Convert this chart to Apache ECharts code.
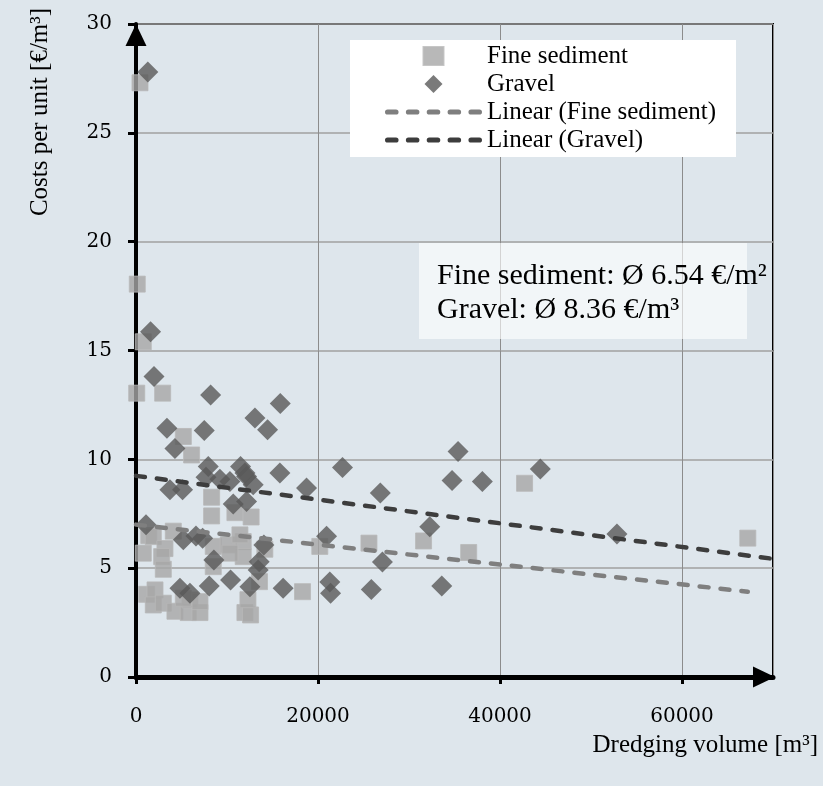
<!DOCTYPE html>
<html>
<head>
<meta charset="utf-8">
<script src="https://cdn.jsdelivr.net/npm/echarts@6/dist/echarts.min.js"></script>
<style>
  html, body { margin: 0; padding: 0; background: #dee6ec; }
  #main { width: 823px; height: 786px; }
</style>
</head>
<body>
<div id="main"></div>
<script>
// [dredging volume m3, cost per unit]
const fineSediment = [
  [440, 27.3], [140, 18.05], [800, 15.4], [80, 13.04], [2930, 13.04],
  [5200, 11.05], [6110, 10.2], [8310, 8.26], [8310, 7.4], [10870, 7.55],
  [12650, 7.35], [4100, 6.7], [1400, 6.5], [1900, 6.45], [800, 5.69],
  [3180, 5.9], [2820, 5.53], [3000, 4.95], [1170, 3.8], [2090, 4.0],
  [1900, 3.31], [3000, 3.39], [4280, 3.02], [5740, 2.96], [7030, 2.96],
  [5930, 3.54], [7030, 3.46], [5200, 3.62], [11970, 2.96], [12590, 2.85],
  [12300, 3.55], [13570, 4.38], [8490, 6.0], [10130, 6.07], [11780, 6.22],
  [11780, 5.53], [10320, 5.69], [8490, 5.07], [14160, 5.87], [11420, 6.53],
  [18300, 3.92], [20200, 6.0], [25600, 6.15], [31600, 6.25], [36560, 5.72],
  [42700, 8.9], [67230, 6.38]
];
const gravel = [
  [1300, 27.8], [1600, 15.86], [1980, 13.8], [8200, 12.95], [15850, 12.57],
  [13070, 11.9], [14460, 11.36], [3400, 11.43], [7500, 11.33], [4280, 10.5],
  [7940, 9.67], [11490, 9.67], [15810, 9.37], [22690, 9.62], [26850, 8.45],
  [18740, 8.68], [7690, 9.18], [9220, 9.09], [10320, 8.98], [12150, 9.21],
  [11970, 9.37], [12880, 8.83], [3730, 8.6], [5120, 8.6], [10690, 7.95],
  [12150, 8.06], [32280, 6.9], [20940, 6.47], [27080, 5.28], [1100, 6.99],
  [5200, 6.3], [6590, 6.48], [7320, 6.38], [14050, 6.07], [13540, 5.3],
  [13430, 4.92], [8560, 5.38], [4830, 4.08], [5930, 3.85], [8050, 4.18],
  [10390, 4.46], [12520, 4.15], [16170, 4.08], [21300, 4.36], [21380, 3.85],
  [25860, 4.02], [33600, 4.18], [35390, 10.36], [34730, 9.03], [38060, 8.98],
  [44430, 9.56], [52850, 6.57]
];
const fineTrend = [[0, 7.0], [67230, 3.92]];
const gravelTrend = [[0, 9.24], [70000, 5.43]];

const seriesNames = ['Fine sediment', 'Gravel', 'Linear (Fine sediment)', 'Linear (Gravel)'];
const averageLines = ['Fine sediment: Ø 6.54 €/m²', 'Gravel: Ø 8.36 €/m³'];

const serif = 'Liberation Serif';
const fineColor = '#a6a6a6', gravelColor = '#595959';
const fineLineColor = '#7f7f7f', gravelLineColor = '#3d3d3d';
const dash = [9, 12];

// dashed legend icon: five rounded dashes
let dashIcon = 'path://';
for (let i = 0; i < 5; i++) {
  const x0 = i * 20 + 2.5;
  dashIcon += 'M' + x0 + ',0h8a2.5,2.5 0 0 1 0,5h-8a2.5,2.5 0 0 1 0,-5z';
}

const chart = echarts.init(document.getElementById('main'));

const option = {
  backgroundColor: '#dee6ec',
  animation: false,
  grid: {
    left: 136, right: 50, top: 24, bottom: 109,
    show: true, borderColor: '#000', borderWidth: 2
  },
  xAxis: {
    type: 'value', min: 0, max: 70000, interval: 20000,
    axisLine: { show: true, lineStyle: { color: '#000', width: 5 },
      symbol: ['none', 'triangle'], symbolSize: [21, 22], symbolOffset: [0, -9] },
    axisTick: { show: true, length: 7, lineStyle: { color: '#000', width: 3 } },
    axisLabel: { showMaxLabel: false, margin: 30, color: '#000', fontFamily: 'DejaVu Serif', fontSize: 20,
      formatter: v => String(v) },
    splitLine: { show: true, lineStyle: { color: '#8c8c8c', width: 1 } }
  },
  yAxis: {
    type: 'value', min: 0, max: 30, interval: 5,
    axisLine: { show: true, lineStyle: { color: '#000', width: 4 },
      symbol: ['none', 'triangle'], symbolSize: [21, 22], symbolOffset: [0, -11] },
    axisTick: { show: true, length: 8, lineStyle: { color: '#000', width: 3 } },
    axisLabel: { margin: 24, color: '#000', fontFamily: 'DejaVu Serif', fontSize: 20 },
    splitLine: { show: true, lineStyle: { color: '#a0a0a0', width: 1.5 } }
  },
  legend: {
    orient: 'vertical', left: 385, top: 42, padding: 0, itemGap: 0,
    itemWidth: 97, itemHeight: 18,
    textStyle: { fontFamily: serif, fontSize: 25, color: '#000', lineHeight: 28 },
    data: [
      { name: seriesNames[0], icon: 'path://M0,0L10,0L10,9L0,9Z' },
      { name: seriesNames[1], icon: 'path://M5,0L10,5L5,10L0,5Z' },
      { name: seriesNames[2], icon: dashIcon, itemStyle: { color: fineLineColor, borderWidth: 0 } },
      { name: seriesNames[3], icon: dashIcon, itemStyle: { color: gravelLineColor, borderWidth: 0 } }
    ]
  },
  series: [
    {
      name: seriesNames[0], type: 'scatter', symbol: 'rect', symbolSize: 16,
      itemStyle: { color: fineColor, borderColor: '#b8b8b8', borderWidth: 1 },
      data: fineSediment
    },
    {
      name: seriesNames[1], type: 'scatter', symbol: 'diamond', symbolSize: 21,
      itemStyle: { color: gravelColor },
      data: gravel
    },
    {
      name: seriesNames[2], type: 'line', showSymbol: false, symbol: 'none',
      lineStyle: { color: fineLineColor, width: 4.5, type: dash, cap: 'round' },
      itemStyle: { color: fineLineColor },
      data: fineTrend
    },
    {
      name: seriesNames[3], type: 'line', showSymbol: false, symbol: 'none',
      lineStyle: { color: gravelLineColor, width: 4.5, type: dash, cap: 'round' },
      itemStyle: { color: gravelLineColor },
      data: gravelTrend
    }
  ],
  graphic: [
    { type: 'rect', z: 3, shape: { x: 350, y: 40, width: 386, height: 117 },
      style: { fill: '#ffffff' } },
    { type: 'rect', z: 3, shape: { x: 419, y: 243, width: 328, height: 96 },
      style: { fill: 'rgba(255,255,255,0.62)' } },
    { type: 'text', z: 5, x: 437, y: 293,
      style: { text: averageLines.join('\n'), font: '30px "Liberation Serif"', lineHeight: 34,
        fill: '#000', textVerticalAlign: 'middle' } },
    { type: 'text', z: 5, x: 40, y: 112, rotation: Math.PI / 2,
      style: { text: 'Costs per unit [€/m³]', font: '25px "Liberation Serif"', fill: '#000',
        textAlign: 'center', textVerticalAlign: 'middle' } },
    { type: 'text', z: 5, x: 818, y: 745,
      style: { text: 'Dredging volume [m³]', font: '25px "Liberation Serif"', fill: '#000',
        textAlign: 'right', textVerticalAlign: 'middle' } }
  ]
};
chart.setOption(option);
</script>
</body>
</html>
